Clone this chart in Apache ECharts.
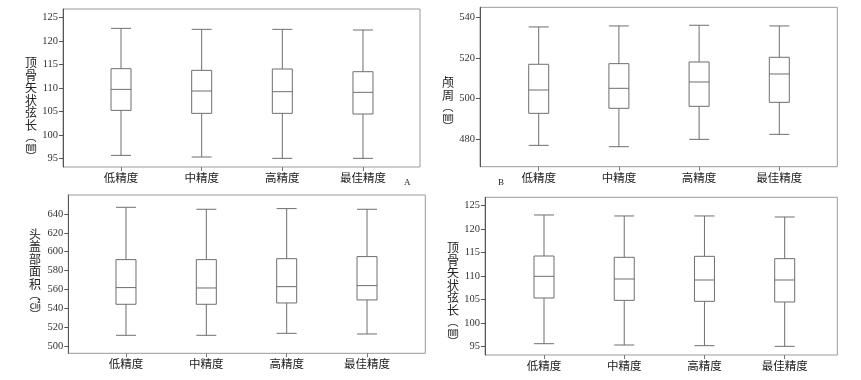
<!DOCTYPE html>
<html><head><meta charset="utf-8">
<script src="https://cdn.jsdelivr.net/npm/echarts@6/dist/echarts.min.js"></script>
<style>html,body{margin:0;padding:0;background:#fff}#c{width:861px;height:380px}</style>
</head><body><div id="c"></div>
<script>
const categories = ['低精度', '中精度', '高精度', '最佳精度'];
// [min, Q1, median, Q3, max]
const dataA = [[95.70,105.25,109.71,114.10,122.66],[95.35,104.62,109.36,113.75,122.45],[95.07,104.62,109.22,114.03,122.45],[95.07,104.48,109.08,113.46,122.31]];
const dataB = [[477.05,492.79,504.26,516.89,535.25],[476.39,495.25,505.08,517.21,535.74],[480.00,496.23,508.20,518.03,536.07],[482.46,498.20,512.13,520.33,535.74]];
const dataC = [[511.3,544.2,561.9,591.6,647.1],[511.3,544.2,561.5,591.6,645.0],[513.4,545.6,562.9,592.6,645.7],[512.7,548.8,564.0,594.8,645.0]];
const dataD = [[95.63,105.33,109.93,114.24,122.95],[95.35,104.83,109.36,113.96,122.74],[95.21,104.62,109.15,114.17,122.74],[95.07,104.48,109.15,113.68,122.52]];
const ticksA = [95, 100, 105, 110, 115, 120, 125];
const ticksB = [480, 500, 520, 540];
const ticksC = [500, 520, 540, 560, 580, 600, 620, 640];
const ticksD = [95, 100, 105, 110, 115, 120, 125];
const nameA = ['顶骨矢状弦长', '︵㎜︶'];
const nameB = ['颅周', '︵㎜︶'];
const nameC = ['头盖部面积', '︵㎠︶'];
const nameD = ['顶骨矢状弦长', '︵㎜︶'];

// panel layout: frame box, data-band box, y range, name centre
const panels = [
  {frame:[63,9,420,167], band:[80.7,403.3], y:[93.23,126.77], ticks:ticksA, data:dataA, name:nameA, nc:[31,109]},
  {frame:[480,7.3,837.3,166.7], band:[498.6,819.4], y:[466.56,544.9], ticks:ticksB, data:dataB, name:nameB, nc:[448,104]},
  {frame:[68.3,195,425.3,353.3], band:[85.8,407.2], y:[492.2,660.15], ticks:ticksC, data:dataC, name:nameC, nc:[35,274]},
  {frame:[485,197.3,837.3,355], band:[503.9,824.8], y:[93.23,126.7], ticks:ticksD, data:dataD, name:nameD, nc:[453,294]}
];
const grid = [], xAxis = [], yAxis = [], series = [], graphic = [];
panels.forEach((p, i) => {
  const [fl, ft, fr, fb] = p.frame;
  grid.push({left: fl, top: ft, width: fr - fl, height: fb - ft, show: true, borderColor: '#9a9a9a', borderWidth: 1, backgroundColor: 'transparent', outerBoundsMode: 'none'});
  xAxis.push({gridIndex: 2*i, type: 'value', show: false});
  yAxis.push({gridIndex: 2*i, type: 'value', show: false});
  grid.push({left: p.band[0], top: ft, width: p.band[1] - p.band[0], height: fb - ft, outerBoundsMode: 'none'});
  xAxis.push({gridIndex: 2*i+1, type: 'category', data: categories, boundaryGap: true,
    axisLine: {show: false},
    axisTick: {show: true, alignWithLabel: true, length: 4, lineStyle: {color: '#777'}},
    axisLabel: {margin: 5, fontSize: 11.5, color: '#222', fontFamily: 'Noto Sans CJK SC'},
    splitLine: {show: false}});
  yAxis.push({gridIndex: 2*i+1, type: 'value', min: p.y[0], max: p.y[1], offset: p.band[0] - fl,
    axisLine: {show: true, lineStyle: {color: '#555'}},
    axisTick: {show: true, length: 4, customValues: p.ticks, lineStyle: {color: '#555'}},
    axisLabel: {margin: 5, customValues: p.ticks, fontSize: 10.5, color: '#333', fontFamily: 'Liberation Serif'},
    splitLine: {show: false}});
  series.push({type: 'boxplot', xAxisIndex: 2*i+1, yAxisIndex: 2*i+1, data: p.data, boxWidth: [20, 20],
    itemStyle: {color: '#fff', borderColor: '#6e6e6e', borderWidth: 1},
    emphasis: {disabled: true}, silent: true});
  const txt = p.name[0].split('').map(ch => '{c|' + ch + '}')
    .concat(p.name[1].split('').map(ch => '{p|' + ch + '}')).join('\n');
  graphic.push({type: 'text', x: p.nc[0], y: p.nc[1], silent: true,
    style: {text: txt, align: 'center', verticalAlign: 'middle', fill: '#222',
      fontFamily: 'Noto Sans CJK SC', fontSize: 12,
      rich: {c: {fontSize: 12, lineHeight: 12.5, fontFamily: 'Noto Sans CJK SC', fill: '#222'},
             p: {fontSize: 11, lineHeight: 10, fontFamily: 'Noto Sans CJK SC', fill: '#222'}}}});
});
graphic.push({type: 'text', x: 404, y: 178, style: {text: 'A', fontSize: 9, fontFamily: 'Liberation Serif', fill: '#222'}});
graphic.push({type: 'text', x: 498, y: 178, style: {text: 'B', fontSize: 9, fontFamily: 'Liberation Serif', fill: '#222'}});
const chart = echarts.init(document.getElementById('c'), null, {renderer: 'canvas'});
chart.setOption({animation: false, backgroundColor: '#fff', grid, xAxis, yAxis, series, graphic});
</script></body></html>
